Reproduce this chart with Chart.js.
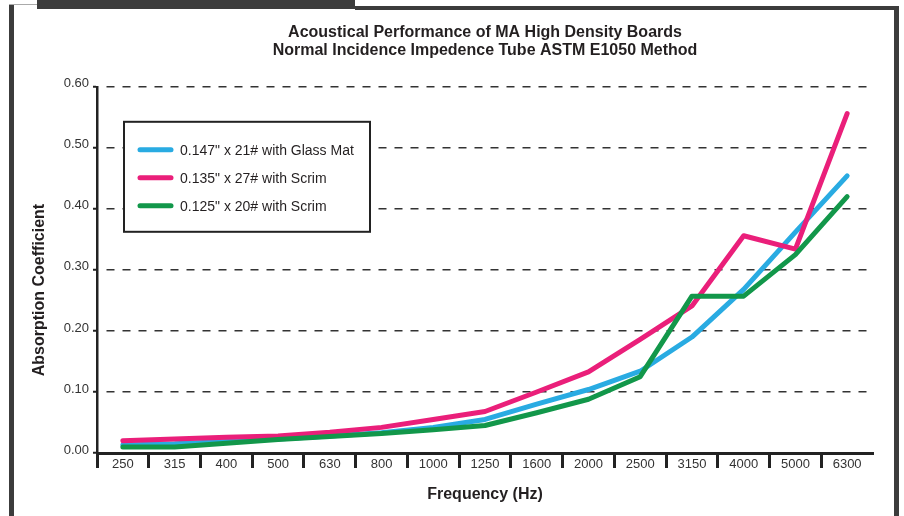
<!DOCTYPE html>
<html>
<head>
<meta charset="utf-8">
<script src="https://cdn.jsdelivr.net/npm/chart.js@4.4.1/dist/chart.umd.min.js"></script>
<style>
  html, body { margin: 0; padding: 0; background: #fff; }
  #wrap { position: relative; width: 904px; height: 516px; overflow: hidden; }
  #chart { position: absolute; left: 0; top: 0; }
  .frame { position: absolute; background: #3c3c3c; }
</style>
</head>
<body>
<div id="wrap">
  <canvas id="chart" width="904" height="516"></canvas>
  <div class="frame" style="left:9px;top:4px;width:28px;height:1px;background:#aaa"></div>
  <div class="frame" style="left:37px;top:0;width:318px;height:9px"></div>
  <div class="frame" style="left:355px;top:6px;width:544px;height:4px"></div>
  <div class="frame" style="left:9px;top:5px;width:5px;height:511px"></div>
  <div class="frame" style="left:894px;top:6px;width:5px;height:510px"></div>
</div>
<script>
/* global Chart */

// --- data ---
const FREQUENCIES = ["250", "315", "400", "500", "630", "800", "1000", "1250",
                     "1600", "2000", "2500", "3150", "4000", "5000", "6300"];

const GLASS_MAT_147 = [0.013, 0.015, 0.019, 0.023, 0.028, 0.033, 0.042, 0.055,
                       0.080, 0.104, 0.134, 0.190, 0.268, 0.362, 0.454];
const SCRIM_135     = [0.020, 0.023, 0.026, 0.028, 0.034, 0.042, 0.055, 0.068,
                       0.100, 0.133, 0.186, 0.241, 0.356, 0.334, 0.556];
const SCRIM_125     = [0.010, 0.010, 0.016, 0.022, 0.027, 0.032, 0.038, 0.045,
                       0.066, 0.088, 0.125, 0.257, 0.257, 0.325, 0.420];

const SERIES_LABELS = [
  '0.147" x 21# with Glass Mat',
  '0.135" x 27# with Scrim',
  '0.125" x 20# with Scrim',
];

const TITLE_LINES = [
  "Acoustical Performance of MA High Density Boards",
  "Normal Incidence Impedence Tube ASTM E1050 Method",
];

const Y_TITLE = "Absorption Coefficient";
const X_TITLE = "Frequency (Hz)";

const Y_MIN = 0;
const Y_MAX = 0.6;
const Y_STEP = 0.1;

const COLORS = {
  blue:  "#29abe2",
  pink:  "#ea1f7a",
  green: "#12974a",
  ink:   "#231f20",
  axis:  "#222222",
  tick:  "#333333",
};

const FONT = "'Liberation Sans', Arial, sans-serif";

// legend drawn as a boxed panel inside the plot area
const legendBox = {
  id: "legendBox",
  afterDraw(chart) {
    const { ctx, chartArea } = chart;
    const x = chartArea.left + 27;
    const y = chartArea.top + 35;
    const w = 246;
    const h = 110;
    ctx.save();
    ctx.fillStyle = "#fff";
    ctx.fillRect(x, y, w, h);
    ctx.lineWidth = 2;
    ctx.strokeStyle = COLORS.axis;
    ctx.strokeRect(x, y, w, h);
    ctx.font = "14px " + FONT;
    ctx.textBaseline = "middle";
    chart.data.datasets.forEach((ds, i) => {
      const rowY = y + 28 + i * 28;
      ctx.strokeStyle = ds.borderColor;
      ctx.lineWidth = 5;
      ctx.lineCap = "round";
      ctx.beginPath();
      ctx.moveTo(x + 16, rowY);
      ctx.lineTo(x + 47, rowY);
      ctx.stroke();
      ctx.fillStyle = COLORS.ink;
      ctx.fillText(ds.label, x + 56, rowY + 1);
    });
    ctx.restore();
  },
};

// y axis title sits a little below the middle of the plot in the original
const sideTitle = {
  id: "sideTitle",
  afterDraw(chart) {
    const { ctx, chartArea } = chart;
    ctx.save();
    ctx.translate(40, chartArea.top + (chartArea.bottom - chartArea.top) * 0.555);
    ctx.rotate(-Math.PI / 2);
    ctx.font = "bold 16px " + FONT;
    ctx.fillStyle = COLORS.ink;
    ctx.textAlign = "center";
    ctx.textBaseline = "middle";
    ctx.fillText(Y_TITLE, 0, 0);
    ctx.restore();
  },
};

function lineSet(label, data, color, order) {
  return {
    label,
    data,
    borderColor: color,
    backgroundColor: color,
    borderWidth: 5,
    borderCapStyle: "round",
    borderJoinStyle: "round",
    pointRadius: 0,
    tension: 0,
    order,
  };
}

const ctx = document.getElementById("chart").getContext("2d");
new Chart(ctx, {
  type: "line",
  data: {
    labels: FREQUENCIES,
    datasets: [
      lineSet(SERIES_LABELS[0], GLASS_MAT_147, COLORS.blue, 2),
      lineSet(SERIES_LABELS[1], SCRIM_135, COLORS.pink, 1),
      lineSet(SERIES_LABELS[2], SCRIM_125, COLORS.green, 0),
    ],
  },
  options: {
    responsive: false,
    animation: false,
    layout: { padding: { left: 0, right: 31, top: 0, bottom: 0 } },
    plugins: {
      legend: { display: false },
      tooltip: { enabled: false },
      title: {
        display: true,
        text: TITLE_LINES,
        fullSize: false,
        color: COLORS.ink,
        font: { family: FONT, size: 16, weight: "bold", lineHeight: 1.15 },
        padding: { top: 23, bottom: 27 },
      },
    },
    scales: {
      x: {
        offset: true,
        afterFit: (scale) => { scale.height = 63; },
        border: { display: true, width: 3, color: COLORS.axis },
        grid: {
          offset: true,
          drawOnChartArea: false,
          drawTicks: true,
          tickLength: 15,
          tickWidth: 3,
          tickColor: (c) => (c.type === "tick" ? COLORS.axis : "rgba(0,0,0,0)"),
        },
        ticks: {
          color: COLORS.tick,
          font: { family: FONT, size: 13 },
          padding: -11,
          maxRotation: 0,
          autoSkip: false,
        },
        title: {
          display: true,
          text: X_TITLE,
          color: COLORS.ink,
          font: { family: FONT, size: 16, weight: "bold" },
          padding: { top: 0, bottom: 12 },
        },
      },
      y: {
        min: Y_MIN,
        max: Y_MAX,
        afterFit: (scale) => { scale.width = 97; },
        border: { display: true, width: 2.5, color: COLORS.axis, dash: [8, 8], dashOffset: 8 },
        grid: {
          color: (c) => (c.tick && c.tick.value === 0 ? "rgba(0,0,0,0)" : COLORS.tick),
          lineWidth: 1.5,
          drawTicks: true,
          tickLength: 4,
          tickWidth: 2,
          tickColor: COLORS.axis,
          tickBorderDash: [],
        },
        ticks: {
          stepSize: Y_STEP,
          color: COLORS.tick,
          font: { family: FONT, size: 13 },
          padding: 4,
          labelOffset: -3,
          callback: (v) => Number(v).toFixed(2),
        },
      },
    },
  },
  plugins: [legendBox, sideTitle],
});
</script>
</body>
</html>
